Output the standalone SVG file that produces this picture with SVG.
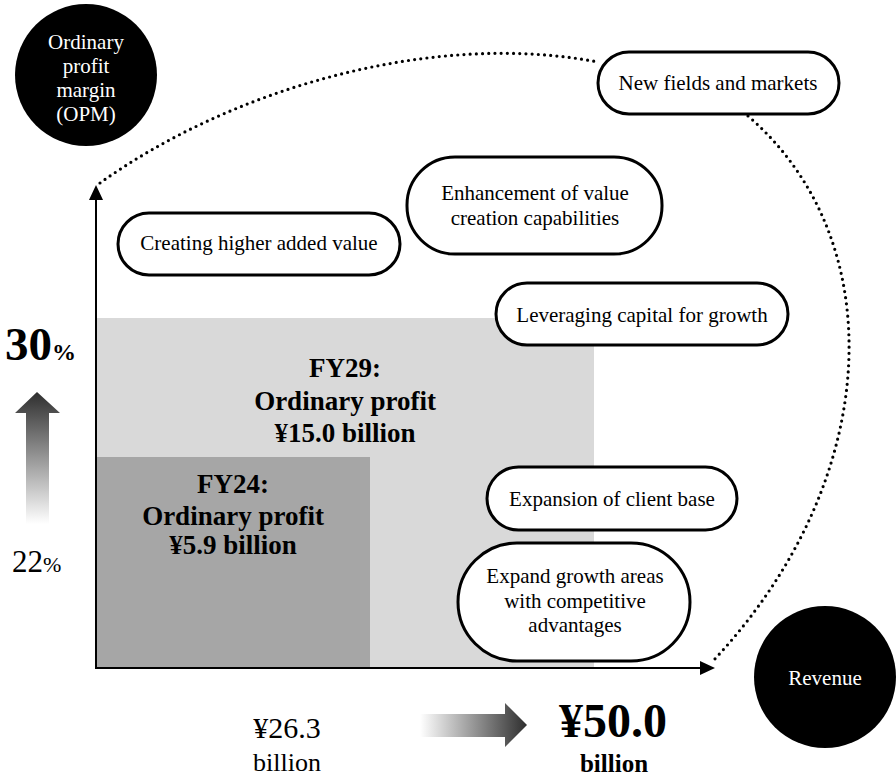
<svg xmlns="http://www.w3.org/2000/svg" width="896" height="778" viewBox="0 0 896 778">
<defs>
<style>
text{font-family:"Liberation Serif","Times New Roman",serif;fill:#000}
.w{fill:#fff;font-size:21px}
.pill{fill:#fff;stroke:#000;stroke-width:3}
.pt{font-size:21px}
.b{font-weight:bold}
.dot{fill:none;stroke:#000;stroke-width:3.2;stroke-dasharray:0 6.2;stroke-linecap:round}
.ax{stroke:#000;stroke-width:2;fill:none}
</style>
<linearGradient id="gv" x1="0" y1="1" x2="0" y2="0">
<stop offset="0" stop-color="#fff"/>
<stop offset="1" stop-color="#2e2e2e"/>
</linearGradient>
<linearGradient id="gh" x1="0" y1="0" x2="1" y2="0">
<stop offset="0" stop-color="#fff"/>
<stop offset="1" stop-color="#2e2e2e"/>
</linearGradient>
</defs>
<rect width="896" height="778" fill="#fff"/>

<g id="fy29">
<rect x="96" y="318" width="498" height="350" fill="#d9d9d9"/>
<text class="b" font-size="27" text-anchor="middle"><tspan x="345" y="377">FY29:</tspan><tspan x="345" y="410">Ordinary profit</tspan><tspan x="345" y="442">¥15.0 billion</tspan></text>
</g>
<g id="fy24">
<rect x="96" y="457" width="274" height="211" fill="#a6a6a6"/>
<text class="b" font-size="27" text-anchor="middle"><tspan x="233" y="493">FY24:</tspan><tspan x="233" y="525">Ordinary profit</tspan><tspan x="233" y="554">¥5.9 billion</tspan></text>
</g>

<g id="connectors">
<line class="ax" x1="96" y1="668" x2="96" y2="198"/>
<polygon points="96,185 89,200 103,200" fill="#000"/>
<line class="ax" x1="95" y1="668" x2="702" y2="668"/>
<polygon points="715,668 700,661 700,675" fill="#000"/>
<path class="dot" d="M100,183 C230,90 430,30 598,62"/>
<path class="dot" d="M748,116 C892,240 884,480 712,662"/>
</g>

<g id="opm">
<circle cx="86" cy="75" r="71" fill="#000"/>
<text class="w" text-anchor="middle"><tspan x="86" y="49">Ordinary</tspan><tspan x="86" y="73">profit</tspan><tspan x="86" y="97">margin</tspan><tspan x="86" y="121">(OPM)</tspan></text>
</g>
<g id="revenue">
<circle cx="825" cy="677" r="71" fill="#000"/>
<text class="w" x="825" y="685" text-anchor="middle">Revenue</text>
</g>

<g id="new-fields">
<rect class="pill" x="598" y="52" width="241" height="62" rx="31"/>
<text class="pt" x="718" y="90" text-anchor="middle">New fields and markets</text>
</g>
<g id="higher-value">
<rect class="pill" x="118" y="213" width="282" height="62" rx="31"/>
<text class="pt" x="259" y="250" text-anchor="middle">Creating higher added value</text>
</g>
<g id="enhancement">
<rect class="pill" x="407" y="157" width="255" height="97" rx="48"/>
<text class="pt" text-anchor="middle"><tspan x="535" y="200">Enhancement of value</tspan><tspan x="535" y="225">creation capabilities</tspan></text>
</g>
<g id="leveraging">
<rect class="pill" x="496" y="283" width="292" height="62" rx="31"/>
<text class="pt" x="642" y="322" text-anchor="middle">Leveraging capital for growth</text>
</g>
<g id="client-base">
<rect class="pill" x="487" y="467" width="250" height="63" rx="31.5"/>
<text class="pt" x="612" y="506" text-anchor="middle">Expansion of client base</text>
</g>
<g id="growth-areas">
<rect class="pill" x="458" y="543" width="232" height="118" rx="59"/>
<text class="pt" text-anchor="middle"><tspan x="575" y="583">Expand growth areas</tspan><tspan x="575" y="608">with competitive</tspan><tspan x="575" y="632">advantages</tspan></text>
</g>

<g id="opm-scale">
<text x="5" y="360" class="b" font-size="47">30<tspan font-size="24">%</tspan></text>
<polygon points="37,392 60,413 49,413 49,524 26,524 26,413 15,413" fill="url(#gv)"/>
<text x="12" y="572" font-size="31">22<tspan font-size="22">%</tspan></text>
</g>

<g id="revenue-scale">
<text x="287" y="738" font-size="30" text-anchor="middle">¥26.3</text>
<text x="287" y="771" font-size="26" text-anchor="middle">billion</text>
<polygon points="420,714 505,714 505,703 527,725 505,747 505,737 420,737" fill="url(#gh)"/>
<text x="613" y="737" class="b" font-size="48" text-anchor="middle">¥50.0</text>
<text x="614" y="772" class="b" font-size="25" text-anchor="middle">billion</text>
</g>
</svg>
